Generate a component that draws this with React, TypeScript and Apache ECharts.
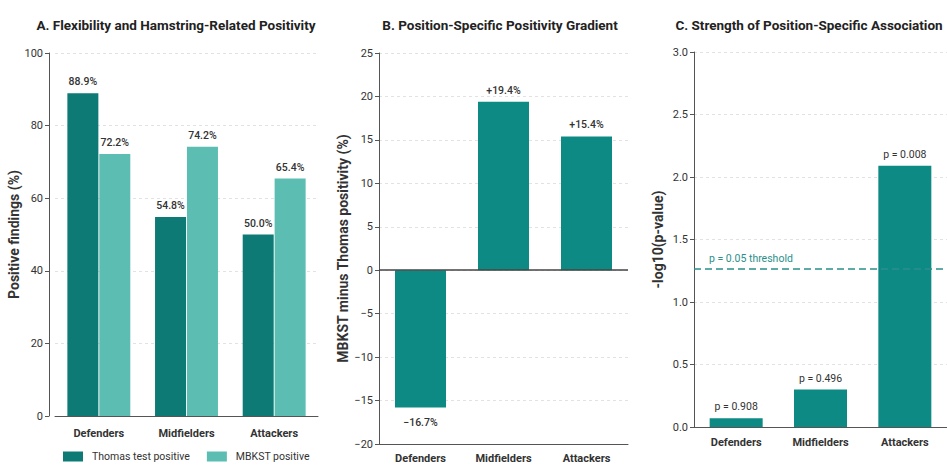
import React, { useEffect, useRef } from "react";
import * as echarts from "echarts";

const categories = ["Defenders", "Midfielders", "Attackers"];
const thomasPositive = [88.9, 54.8, 50.0];
const mbkstPositive = [72.2, 74.2, 65.4];
const positivityDiff = [-15.8, 19.4, 15.4];
const diffLabels = ["\u221216.7%", "+19.4%", "+15.4%"];
const negLog10P = [0.07, 0.3, 2.09];
const pLabels = ["p = 0.908", "p = 0.496", "p = 0.008"];
const thresholdValue = 1.27;
const titles = [
  "A. Flexibility and Hamstring-Related Positivity",
  "B. Position-Specific Positivity Gradient",
  "C. Strength of Position-Specific Association",
];

const FONT = "Roboto, 'Noto Sans', sans-serif";
const DARK = "#0d7a75";
const LIGHT = "#5cbdb2";
const MID = "#0e8a85";
const AXIS = "#555";
const TXT = "#333";

export default function App() {
  const ref = useRef<HTMLDivElement>(null);
  useEffect(() => {
    if (!ref.current) return;
    const chart = echarts.init(ref.current, undefined, { renderer: "svg" });
    const yAxisBase = (extra: any) => ({
      type: "value",
      nameLocation: "middle",
      nameRotate: 90,
      nameTextStyle: { fontFamily: FONT, fontSize: 14, fontWeight: "bold", color: TXT },
      axisLine: { show: true, lineStyle: { color: AXIS, width: 1 } },
      axisTick: { show: true, length: 4, lineStyle: { color: AXIS } },
      axisLabel: { fontFamily: FONT, fontSize: 11, color: TXT, margin: 6 },
      splitLine: { show: true, lineStyle: { color: "#e2e2e2", type: [3, 3], width: 1 } },
      ...extra,
    });
    const xLabel = (margin: number) => ({ fontFamily: FONT, fontSize: 11, fontWeight: "bold", color: TXT, margin });
    const xAxisBase = (extra: any) => ({
      type: "category",
      data: categories,
      axisLine: { show: true, onZero: false, lineStyle: { color: AXIS, width: 1 } },
      axisTick: { show: false },
      ...extra,
    });
    const titleText = (x: number, text: string) => ({
      type: "text",
      x,
      y: 25,
      style: { text, textAlign: "center", textVerticalAlign: "middle", font: `bold 13.5px ${FONT}`, fill: "#222" },
    });
    chart.setOption({
      animation: false,
      textStyle: { fontFamily: FONT },
      graphic: [titleText(176, titles[0]), titleText(500, titles[1]), titleText(809, titles[2])],
      legend: {
        left: 63,
        top: 451,
        padding: 0,
        itemWidth: 20,
        itemHeight: 10,
        itemGap: 17,
        icon: "rect",
        textStyle: { fontFamily: FONT, fontSize: 10.5, color: TXT, padding: [0, 0, 0, 4] },
        data: ["Thomas test positive", "MBKST positive"],
      },
      grid: [
        { left: 55, top: 53, width: 263, height: 363 },
        { left: 379, top: 53, width: 249, height: 391 },
        { left: 694, top: 52, width: 268, height: 375 },
      ],
      xAxis: [
        xAxisBase({ gridIndex: 0, axisLabel: xLabel(12) }),
        xAxisBase({ gridIndex: 1, axisLabel: xLabel(9) }),
        xAxisBase({ gridIndex: 2, axisLabel: xLabel(10) }),
      ],
      yAxis: [
        yAxisBase({ gridIndex: 0, min: 0, max: 100, interval: 20, offset: 6, name: "Positive findings (%)", nameGap: 25 }),
        yAxisBase({
          gridIndex: 1,
          min: -20,
          max: 25,
          interval: 5,
          name: "MBKST minus Thomas positivity (%)",
          nameGap: 29,
          axisLabel: { fontFamily: FONT, fontSize: 11, color: TXT, margin: 6, formatter: (v: number) => String(v).replace("-", "\u2212") },
        }),
        yAxisBase({
          gridIndex: 2,
          min: 0,
          max: 3,
          interval: 0.5,
          name: "-log10(p-value)",
          nameGap: 29,
          axisLabel: { fontFamily: FONT, fontSize: 11, color: TXT, margin: 6, formatter: (v: number) => v.toFixed(1) },
        }),
      ],
      series: [
        {
          name: "Thomas test positive",
          type: "bar",
          xAxisIndex: 0,
          yAxisIndex: 0,
          data: thomasPositive,
          barWidth: 31,
          barGap: "3%",
          itemStyle: { color: DARK },
          label: { show: true, position: "top", distance: 6, fontFamily: FONT, fontSize: 10.5, fontWeight: 500, color: TXT, formatter: (p: any) => `${Number(p.value).toFixed(1)}%` },
        },
        {
          name: "MBKST positive",
          type: "bar",
          xAxisIndex: 0,
          yAxisIndex: 0,
          data: mbkstPositive,
          barWidth: 31,
          barGap: "3%",
          itemStyle: { color: LIGHT },
          label: { show: true, position: "top", distance: 6, fontFamily: FONT, fontSize: 10.5, fontWeight: 500, color: TXT, formatter: (p: any) => `${Number(p.value).toFixed(1)}%` },
        },
        {
          name: "Difference",
          type: "bar",
          xAxisIndex: 1,
          yAxisIndex: 1,
          barWidth: 51,
          itemStyle: { color: MID },
          data: positivityDiff.map((v, i) => ({
            value: v,
            label: {
              show: true,
              position: v < 0 ? "bottom" : "top",
              distance: v < 0 ? 9 : 6,
              fontFamily: FONT,
              fontSize: 10.5,
              fontWeight: 500,
              color: TXT,
              formatter: () => diffLabels[i],
            },
          })),
          markLine: {
            silent: true,
            symbol: "none",
            label: { show: false },
            lineStyle: { color: "#444", type: "solid", width: 1.5 },
            data: [{ yAxis: 0 }],
          },
        },
        {
          name: "-log10(p)",
          type: "bar",
          xAxisIndex: 2,
          yAxisIndex: 2,
          barWidth: 53,
          itemStyle: { color: MID },
          data: negLog10P.map((v, i) => ({
            value: v,
            label: {
              show: true,
              position: "top",
              distance: 6,
              fontFamily: FONT,
              fontSize: 10.5,
              color: TXT,
              formatter: () => pLabels[i],
            },
          })),
          markLine: {
            silent: true,
            symbol: "none",
            lineStyle: { color: "#2a8f8a", type: [7, 4], width: 1.5 },
            label: {
              show: true,
              position: "insideStartTop",
              distance: [15, 4],
              formatter: "p = 0.05 threshold",
              fontFamily: FONT,
              fontSize: 10.5,
              color: "#2a8f8a",
            },
            data: [{ yAxis: thresholdValue }],
          },
        },
      ],
    });
    return () => chart.dispose();
  }, []);
  return (
    <div
      ref={ref}
      style={{ position: "fixed", left: 0, top: 0, width: 947, height: 465, background: "#fff" }}
    />
  );
}
